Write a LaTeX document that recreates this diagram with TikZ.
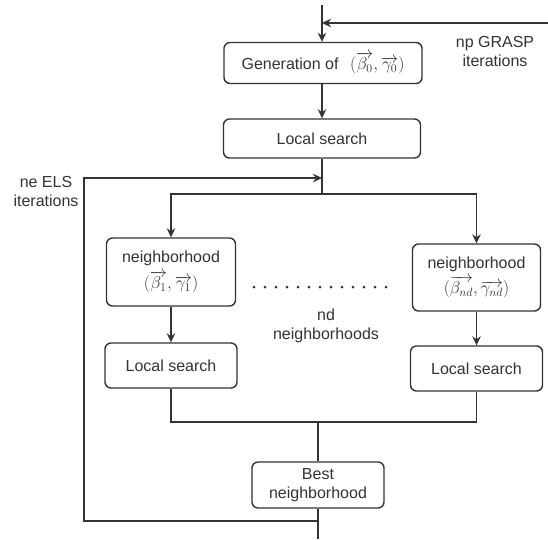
\documentclass[tikz,border=0pt]{standalone}
\usepackage{fontspec}
\setmainfont{Liberation Sans}
\usetikzlibrary{arrows.meta}
\definecolor{ink}{HTML}{333333}
\newcommand\mthbig{\fontsize{17}{20}\selectfont}
\newcommand\mthsmall{\fontsize{16.5}{20}\selectfont}
\tikzset{
  box/.style={draw=ink, line width=1.4pt, rounded corners=6pt, fill=white,
    text=ink, align=center, inner sep=0pt, font=\fontsize{16}{19}\selectfont},
  lbl/.style={text=ink, align=center, inner sep=0pt, font=\fontsize{16}{19}\selectfont},
  conn/.style={draw=ink, line width=1.4pt},
  arr/.style={conn, -{Stealth[length=9pt,width=8.5pt]}}
}
\begin{document}
\begin{tikzpicture}[x=1pt,y=-1pt]
\useasboundingbox (0,0) rectangle (548,539);

% boxes
\node[box, minimum width=198pt, minimum height=41pt] (gen) at (323,63)
  {Generation of\;\, {\mthbig$(\overrightarrow{\beta_0},\overrightarrow{\gamma_0})$}};
\node[box, minimum width=197pt, minimum height=39pt] (ls0) at (322,138.5) {Local search};
\node[box, minimum width=129pt, minimum height=68pt] (nb1) at (171,272)
  {neighborhood\\[4pt]{\mthsmall$(\overrightarrow{\beta_1},\overrightarrow{\gamma_1})$}};
\node[box, minimum width=128pt, minimum height=67pt] (nbn) at (476.5,277.5)
  {neighborhood\\[4pt]{\mthsmall$(\overrightarrow{\beta_{nd}},\overrightarrow{\gamma_{nd}})$}};
\node[box, minimum width=132pt, minimum height=45pt] (ls1) at (171,365.5) {Local search};
\node[box, minimum width=132pt, minimum height=45pt] (lsn) at (476.5,368.5) {Local search};
\node[box, minimum width=132pt, minimum height=46pt] (best) at (318,485) {Best\\neighborhood};

% free labels
\node[lbl] (npl) at (495,51) {np GRASP\\iterations};
\node[lbl] (nel) at (46,191) {ne ELS\\iterations};
\node[lbl] (ndl) at (326,326) {nd\\neighborhoods};

% ellipsis between the neighborhoods
\foreach \i in {0,...,12} \fill[ink] (254+\i*11,287) circle (1.5pt);

% junction points
\coordinate (top) at (322,5);
\coordinate (grasp) at (548,23);
\coordinate (split) at (322,194);
\coordinate (merge) at (318,422);
\coordinate (bottom) at (318,539);
\coordinate (loopA) at (318,521);
\coordinate (loopB) at (84,521);
\coordinate (loopC) at (84,178);

% connectors
\draw[arr] (top) -- (top |- gen.north);
\draw[arr] (grasp) -- (grasp -| top);
\draw[arr] (top |- gen.south) -- (ls0.north);
\draw[conn] (ls0.south) -- (split);
\draw[arr] (split) -| (nb1.north);
\draw[arr] (split) -| (nbn.north);
\draw[arr] (nb1) -- (ls1);
\draw[arr] (nbn) -- (lsn);
\draw[conn] (ls1.south) |- (merge);
\draw[conn] (lsn.south) |- (merge);
\draw[conn] (merge) -- (best.north);
\draw[conn] (best.south) -- (bottom);
\draw[arr] (loopA) -- (loopB) -- (loopC) -- (loopC -| split);
\end{tikzpicture}
\end{document}
